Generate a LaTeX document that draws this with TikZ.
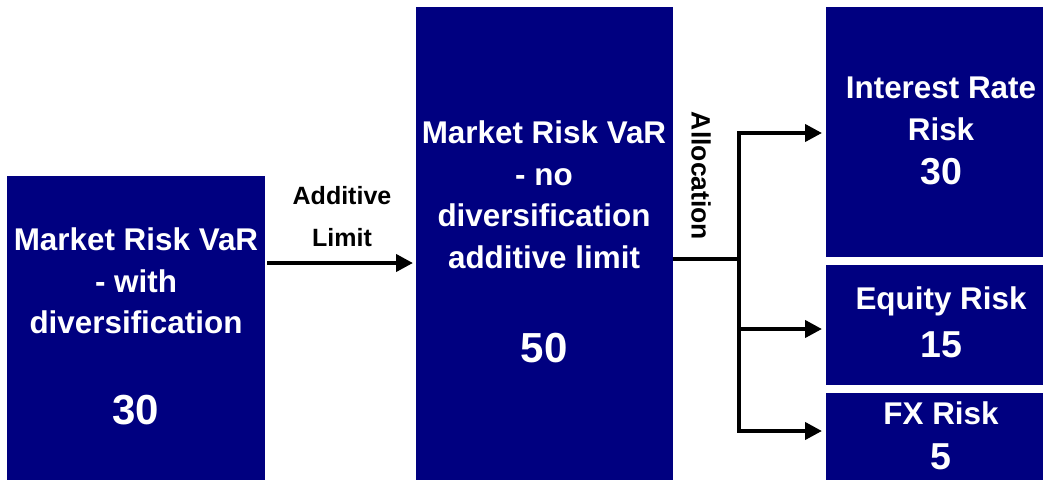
\documentclass[tikz,border=0pt]{standalone}
\usepackage{fontspec}
\setmainfont{Liberation Sans}
\usetikzlibrary{arrows.meta}
\definecolor{boxblue}{RGB}{0,0,128}

\begin{document}
\begin{tikzpicture}[x=1pt,y=-1pt,
  riskbox/.style={fill=boxblue,draw=none,inner sep=0pt,anchor=north west},
  boxtext/.style={text=white,font=\bfseries\fontsize{31.4}{41.5}\selectfont,align=center},
  bignum/.style={text=white,font=\bfseries\fontsize{42}{42}\selectfont},
  smallnum/.style={text=white,font=\bfseries\fontsize{37.5}{42}\selectfont},
  linktext/.style={font=\bfseries\fontsize{25}{42}\selectfont,align=center},
  link/.style={line width=4pt},
  linkarrow/.style={line width=4pt,-{Triangle[length=17pt,width=17pt]}}]
\clip (0,0) rectangle (1043,479);
\node[riskbox,minimum width=258pt,minimum height=310pt] (withdiv) at (7,176) {};
\node[riskbox,minimum width=257pt,minimum height=480pt] (nodiv) at (416,7) {};
\node[riskbox,minimum width=230pt,minimum height=250pt] (irr) at (826,7) {};
\node[riskbox,minimum width=230pt,minimum height=120pt] (eq) at (826,265) {};
\node[riskbox,minimum width=230pt,minimum height=100pt] (fx) at (826,393) {};

\node[boxtext] (withdivtxt) at (136,281) {Market Risk VaR\\- with\\diversification};
\node[bignum] (withdivnum) at (136,410) {30};
\node[boxtext] (nodivtxt) at (544,195) {Market Risk VaR\\- no\\diversification\\additive limit};
\node[bignum] (nodivnum) at (544,348) {50};
\node[boxtext] (irrtxt) at (941,109) {Interest Rate\\Risk};
\node[smallnum] (irrnum) at (941,172) {30};
\node[boxtext] (eqtxt) at (941,301) {Equity Risk};
\node[smallnum] (eqnum) at (941,345) {15};
\node[boxtext] (fxtxt) at (941,413) {FX Risk};
\node[smallnum] (fxnum) at (941,457) {5};

\node[linktext] (addlbl) at (342,217) {Additive\\Limit};
\node[linktext,font=\bfseries\fontsize{26.5}{42}\selectfont,rotate=-90] (alloclbl) at (701,176) {Allocation};

\coordinate (split) at (739,259);
\draw[linkarrow,shorten <=2pt,shorten >=3pt] (withdiv.east |- 0,263) -- (nodiv.west |- 0,263);
\draw[link] (nodiv.east |- split) -- (split);
\draw[linkarrow,shorten >=4pt] (split) |- (irr.west |- 0,133);
\draw[linkarrow,shorten >=4pt] (split) |- (fx.west |- 0,431);
\draw[linkarrow,shorten >=4pt] (split |- 0,329) -- (eq.west |- 0,329);
\end{tikzpicture}
\end{document}
